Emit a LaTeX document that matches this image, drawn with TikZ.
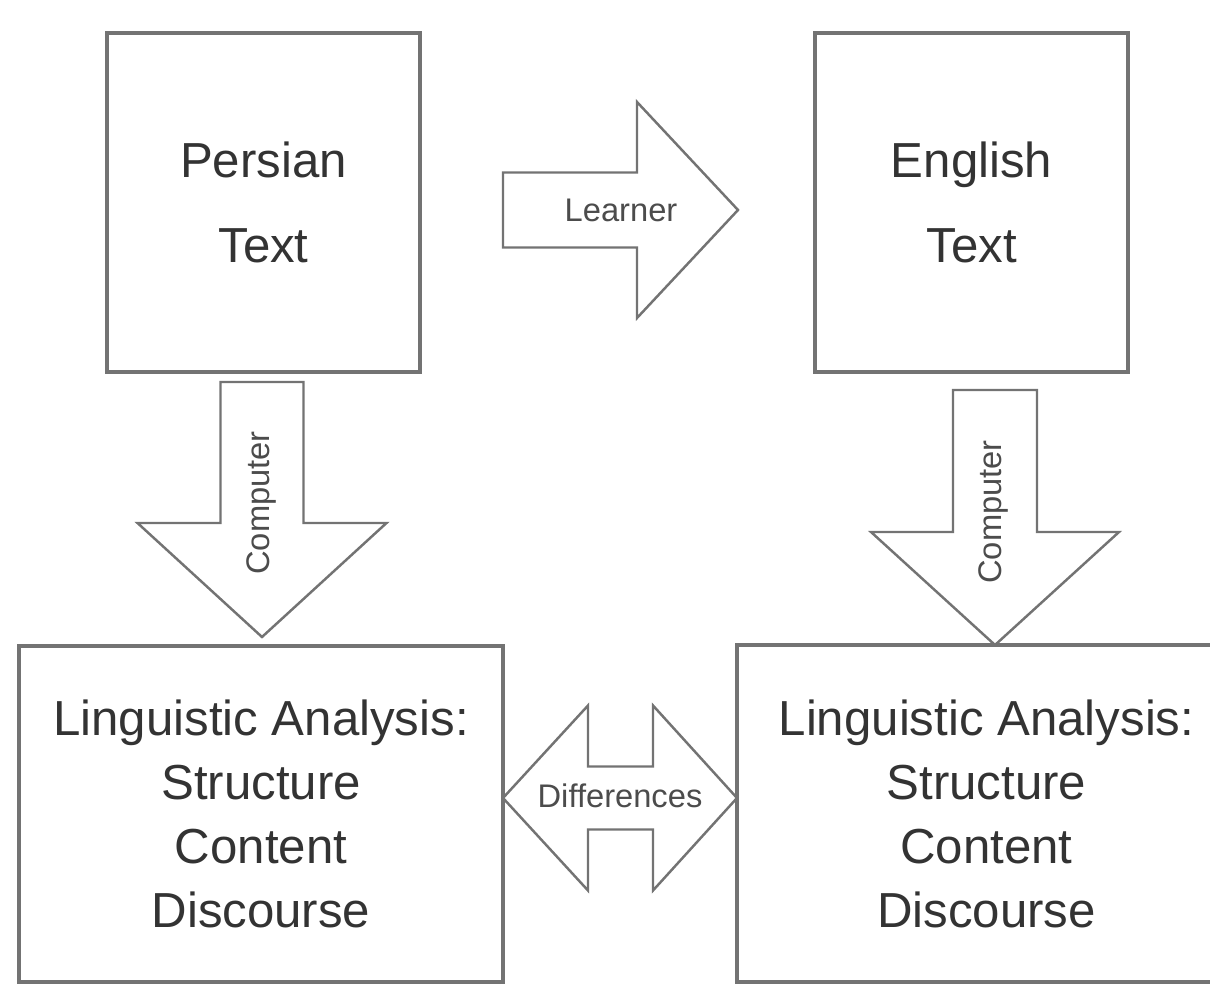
\documentclass[tikz,border=0pt]{standalone}
\usepackage{fontspec}
\setmainfont{Liberation Sans}

\begin{document}
\begin{tikzpicture}[
    textbox/.style={draw=black!55, line width=0.9pt, text=black!80, align=center, inner sep=0pt, font=\fontsize{14}{24.4}\selectfont},
    fatarrow/.style={draw=black!55, line width=0.7pt, fill=white, line join=miter},
    arrowlabel/.style={text=black!70, inner sep=0pt, font=\fontsize{9.3}{11}\selectfont}
  ]
            \clip (0, 0) rectangle (12.10, 9.84);
            % texts
            \node[textbox, minimum width=3.13cm, minimum height=3.39cm] (persian) at (2.635, 7.815) {Persian\\Text};
            \node[textbox, minimum width=3.13cm, minimum height=3.39cm] (english) at (9.715, 7.815) {English\\Text};
            % analyses
            \node[textbox, font=\fontsize{14}{18.2}\selectfont, minimum width=4.84cm, minimum height=3.36cm] (analysisfa) at (2.61, 1.70) {Linguistic Analysis:\\Structure\\Content\\Discourse};
            \node[textbox, font=\fontsize{14}{18.2}\selectfont, minimum width=4.99cm, minimum height=3.37cm] (analysisen) at (9.865, 1.705) {Linguistic Analysis:\\Structure\\Content\\Discourse};
            % learner
            \draw[fatarrow] (5.03, 8.115) -- (6.37, 8.115) -- (6.37, 8.82) -- (7.38, 7.74) -- (6.37, 6.66) -- (6.37, 7.365) -- (5.03, 7.365) -- cycle;
            \node[arrowlabel] (learner) at (6.21, 7.74) {Learner};
            % computer
            \draw[fatarrow] (2.205, 6.02) -- (3.035, 6.02) -- (3.035, 4.61) -- (3.865, 4.61) -- (2.62, 3.47) -- (1.375, 4.61) -- (2.205, 4.61) -- cycle;
            \node[arrowlabel, rotate=90] (computerfa) at (2.615, 4.81) {Computer};
            \draw[fatarrow] (9.53, 5.94) -- (10.37, 5.94) -- (10.37, 4.52) -- (11.19, 4.52) -- (9.95, 3.39) -- (8.71, 4.52) -- (9.53, 4.52) -- cycle;
            \node[arrowlabel, rotate=90] (computeren) at (9.93, 4.72) {Computer};
            % differences
            \draw[fatarrow] (5.03, 1.86) -- (5.88, 2.785) -- (5.88, 2.175) -- (6.53, 2.175) -- (6.53, 2.785) -- (7.37, 1.86) -- (6.53, 0.935) -- (6.53, 1.545) -- (5.88, 1.545) -- (5.88, 0.935) -- cycle;
            \node[arrowlabel] (differences) at (6.20, 1.885) {Differences};
        \end{tikzpicture}
\end{document}
